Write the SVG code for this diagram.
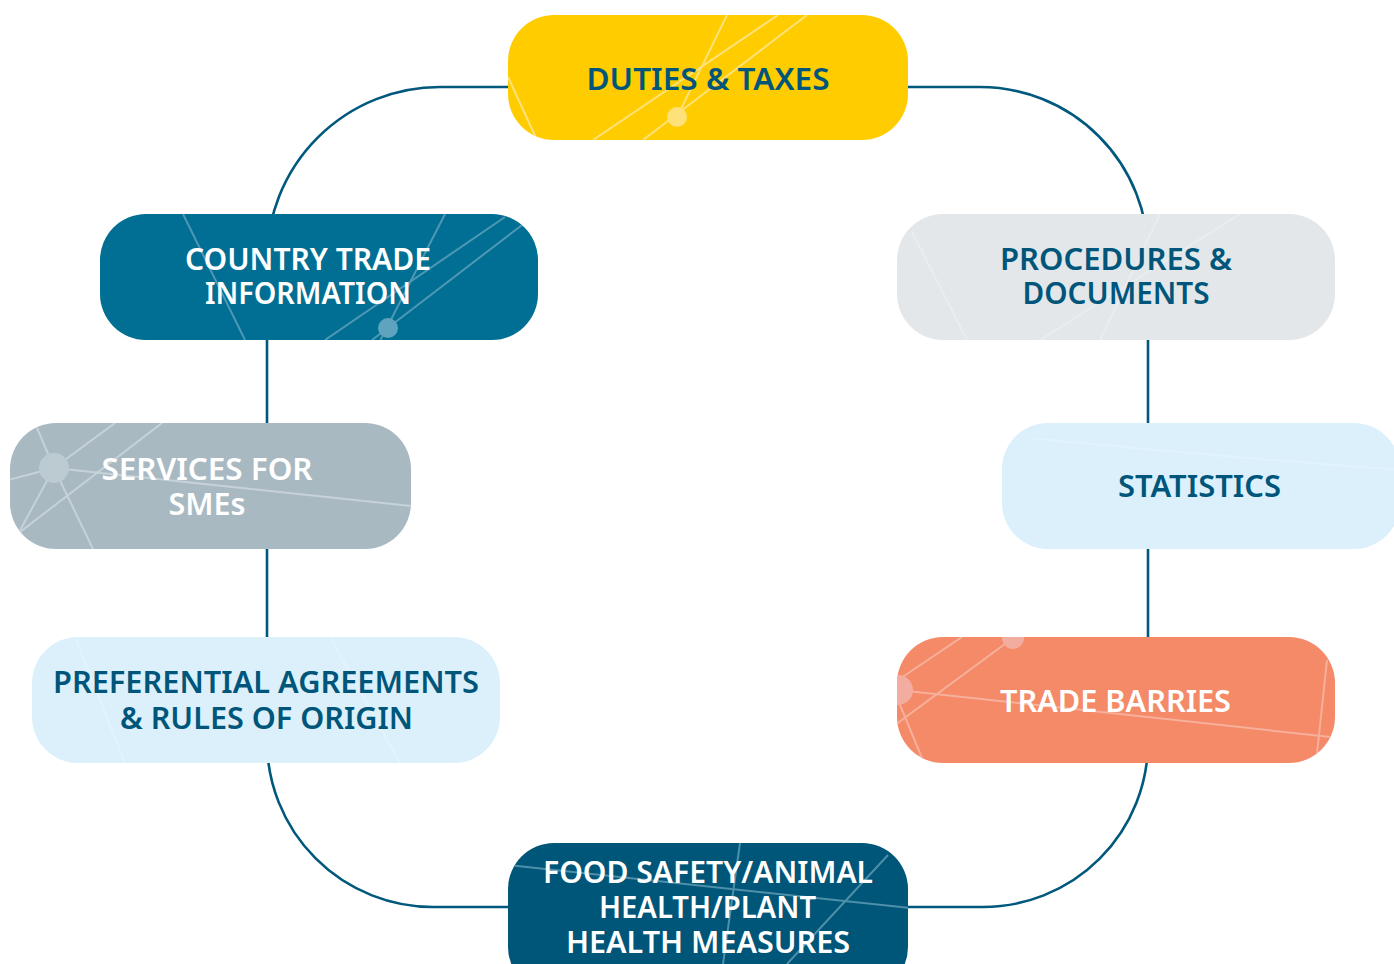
<svg xmlns="http://www.w3.org/2000/svg" width="1394" height="964" viewBox="0 0 1394 964">
<style>
.conn{fill:none;stroke:#00587C;stroke-width:2.6}
.lbl{font-family:"Noto Sans","Liberation Sans",Arial,sans-serif;font-size:30px;font-weight:600;text-anchor:middle}
.dark{fill:#00567A}
.light{fill:#FFFFFF}
.deco{fill:none;stroke-width:2}
</style>
<defs>
<clipPath id="cDuties"><rect x="508" y="15" width="400" height="125" rx="46"/></clipPath>
<clipPath id="cCountry"><rect x="100" y="214" width="438" height="126" rx="46"/></clipPath>
<clipPath id="cProc"><rect x="897" y="214" width="438" height="126" rx="46"/></clipPath>
<clipPath id="cSme"><rect x="10" y="423" width="401" height="126" rx="46"/></clipPath>
<clipPath id="cStat"><rect x="1002" y="423" width="398" height="126" rx="46"/></clipPath>
<clipPath id="cPref"><rect x="32" y="637" width="468" height="126" rx="46"/></clipPath>
<clipPath id="cTrade"><rect x="897" y="637" width="438" height="126" rx="46"/></clipPath>
<clipPath id="cFood"><rect x="508" y="843" width="400" height="150" rx="46"/></clipPath>
</defs>
<rect width="1394" height="964" fill="#FFFFFF"/>
<g id="connectors">
<path class="conn" d="M 508 87 H 440 A 173 173 0 0 0 267 260 V 340"/>
<path class="conn" d="M 267 340 V 423"/>
<path class="conn" d="M 267 549 V 637"/>
<path class="conn" d="M 267 700 V 741 A 166 166 0 0 0 433 907 H 508"/>
<path class="conn" d="M 908 87 H 980 A 168 168 0 0 1 1148 255 V 300"/>
<path class="conn" d="M 1148 340 V 423"/>
<path class="conn" d="M 1148 549 V 637"/>
<path class="conn" d="M 1148 700 V 742 A 165 165 0 0 1 983 907 H 908"/>
</g>
<g id="node-duties">
<rect x="508" y="15" width="400" height="125" rx="46" fill="#FFCC00"/>
<g clip-path="url(#cDuties)" stroke="#FFE27A" class="deco">
<line x1="508" y1="77" x2="537" y2="140"/>
<line x1="727" y1="15" x2="677" y2="117"/>
<line x1="778" y1="15" x2="593" y2="140"/>
<line x1="807" y1="15" x2="643" y2="140"/>
<circle cx="677" cy="117" r="10" fill="#FFE17A" stroke="none"/>
</g>
<text class="lbl dark" x="708" y="90" textLength="243" lengthAdjust="spacingAndGlyphs">DUTIES &amp; TAXES</text>
</g>
<g id="node-country">
<rect x="100" y="214" width="438" height="126" rx="46" fill="#006F93"/>
<g clip-path="url(#cCountry)" stroke="#4F98B5" class="deco">
<line x1="183" y1="214" x2="245" y2="340"/>
<line x1="445" y1="214" x2="378" y2="345"/>
<line x1="505" y1="217" x2="325" y2="340"/>
<line x1="522" y1="225" x2="372" y2="340"/>
<circle cx="388" cy="328" r="10" fill="#5FA3BE" stroke="none"/>
</g>
<text class="lbl light" x="308" y="270" textLength="246" lengthAdjust="spacingAndGlyphs">COUNTRY TRADE</text>
<text class="lbl light" x="308" y="304" textLength="206" lengthAdjust="spacingAndGlyphs">INFORMATION</text>
</g>
<g id="node-procedures">
<rect x="897" y="214" width="438" height="126" rx="46" fill="#E3E7EA"/>
<g clip-path="url(#cProc)" stroke="#EAEDEF" class="deco">
<line x1="912" y1="232" x2="967" y2="340"/>
<line x1="1160" y1="214" x2="1100" y2="340"/>
<line x1="1240" y1="214" x2="1040" y2="340"/>
</g>
<text class="lbl dark" x="1116" y="270" textLength="232" lengthAdjust="spacingAndGlyphs">PROCEDURES &amp;</text>
<text class="lbl dark" x="1116" y="304" textLength="187" lengthAdjust="spacingAndGlyphs">DOCUMENTS</text>
</g>
<g id="node-smes">
<rect x="10" y="423" width="401" height="126" rx="46" fill="#A9B9C2"/>
<g clip-path="url(#cSme)" stroke="#C6D2D8" class="deco">
<line x1="54" y1="468" x2="35" y2="423"/>
<line x1="54" y1="468" x2="115" y2="423"/>
<line x1="54" y1="468" x2="8" y2="480"/>
<line x1="54" y1="468" x2="411" y2="506"/>
<line x1="54" y1="468" x2="18" y2="534"/>
<line x1="54" y1="468" x2="93" y2="549"/>
<line x1="162" y1="423" x2="20" y2="532"/>
<circle cx="54" cy="468" r="15" fill="#BCCAD1" stroke="none"/>
</g>
<text class="lbl light" x="207" y="480" textLength="211" lengthAdjust="spacingAndGlyphs">SERVICES FOR</text>
<text class="lbl light" x="207" y="515" textLength="77" lengthAdjust="spacingAndGlyphs">SMEs</text>
</g>
<g id="node-statistics">
<rect x="1002" y="423" width="398" height="126" rx="46" fill="#DBF0FB"/>
<g clip-path="url(#cStat)" stroke="#E2F3FC" class="deco">
<path d="M 1030 438 Q 1200 455 1400 470"/>
</g>
<text class="lbl dark" x="1199.5" y="497" textLength="163" lengthAdjust="spacingAndGlyphs">STATISTICS</text>
</g>
<g id="node-preferential">
<rect x="32" y="637" width="468" height="126" rx="46" fill="#DBF0FB"/>
<g clip-path="url(#cPref)" stroke="#E3F3FC" class="deco">
<line x1="75" y1="637" x2="125" y2="763"/>
<line x1="330" y1="637" x2="400" y2="763"/>
</g>
<text class="lbl dark" x="266" y="693" textLength="426" lengthAdjust="spacingAndGlyphs">PREFERENTIAL AGREEMENTS</text>
<text class="lbl dark" x="266.5" y="729" textLength="293" lengthAdjust="spacingAndGlyphs">&amp; RULES OF ORIGIN</text>
</g>
<g id="node-trade">
<rect x="897" y="637" width="438" height="126" rx="46" fill="#F48A67"/>
<g clip-path="url(#cTrade)" stroke="#F6B09C" class="deco">
<line x1="1013" y1="638" x2="895" y2="725"/>
<line x1="962" y1="637" x2="898" y2="680"/>
<line x1="898" y1="690" x2="1340" y2="738"/>
<line x1="898" y1="700" x2="924" y2="763"/>
<line x1="1327" y1="660" x2="1316" y2="763"/>
<circle cx="898" cy="690" r="15" fill="#F3ADA0" stroke="none"/>
<circle cx="1013" cy="638" r="11" fill="#F3ADA0" stroke="none"/>
</g>
<text class="lbl light" x="1115.5" y="712" textLength="231" lengthAdjust="spacingAndGlyphs">TRADE BARRIES</text>
</g>
<g id="node-food">
<rect x="508" y="843" width="400" height="150" rx="46" fill="#005678"/>
<g clip-path="url(#cFood)" stroke="#4E8FAA" class="deco">
<line x1="508" y1="865" x2="910" y2="908"/>
<line x1="740" y1="843" x2="723" y2="964"/>
<line x1="888" y1="855" x2="787" y2="964"/>
</g>
<text class="lbl light" x="708" y="883" textLength="330" lengthAdjust="spacingAndGlyphs">FOOD SAFETY/ANIMAL</text>
<text class="lbl light" x="707.5" y="918" textLength="217" lengthAdjust="spacingAndGlyphs">HEALTH/PLANT</text>
<text class="lbl light" x="708" y="953" textLength="284" lengthAdjust="spacingAndGlyphs">HEALTH MEASURES</text>
</g>
</svg>
